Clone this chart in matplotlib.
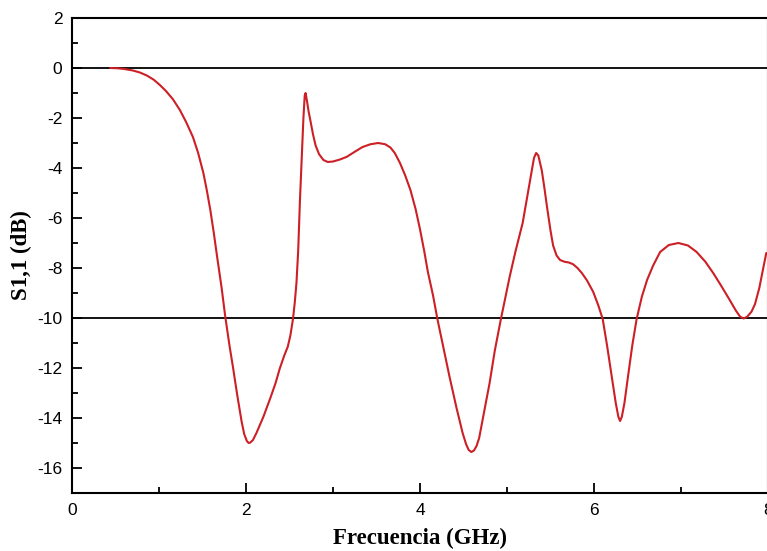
import matplotlib
matplotlib.use("Agg")
import matplotlib.pyplot as plt
from matplotlib.ticker import MultipleLocator

plt.rcParams["axes.unicode_minus"] = False

freq_ghz = [0.44, 0.52, 0.60, 0.70, 0.78, 0.86, 0.94, 1.01, 1.08, 1.16, 1.24,
            1.31, 1.39, 1.45, 1.51, 1.55, 1.59, 1.63, 1.67, 1.72, 1.76, 1.81,
            1.85, 1.90, 1.95, 1.98, 2.01, 2.03, 2.05, 2.08, 2.12, 2.20, 2.28,
            2.34, 2.39, 2.44, 2.48, 2.51, 2.54, 2.56, 2.58, 2.60, 2.62, 2.64,
            2.66, 2.675, 2.685, 2.70, 2.72, 2.74, 2.77, 2.80, 2.84, 2.89, 2.94,
            3.00, 3.08, 3.16, 3.25, 3.34, 3.43, 3.52, 3.60, 3.66, 3.71, 3.77,
            3.83, 3.89, 3.95, 4.00, 4.05, 4.09, 4.15, 4.20, 4.27, 4.34, 4.42,
            4.49, 4.53, 4.56, 4.59, 4.62, 4.65, 4.68, 4.74, 4.80, 4.86, 4.93,
            4.98, 5.03, 5.10, 5.18, 5.23, 5.28, 5.31, 5.335, 5.36, 5.38, 5.40,
            5.43, 5.46, 5.50, 5.53, 5.57, 5.61, 5.66, 5.71, 5.76, 5.81, 5.86,
            5.92, 5.99, 6.05, 6.10, 6.15, 6.21, 6.25, 6.28, 6.30, 6.32, 6.35,
            6.39, 6.44, 6.49, 6.55, 6.61, 6.68, 6.76, 6.86, 6.97, 7.08, 7.18,
            7.28, 7.37, 7.46, 7.56, 7.63, 7.68, 7.72, 7.76, 7.81, 7.85, 7.90,
            7.94, 7.98]
s11_db = [0.0, -0.01, -0.04, -0.10, -0.18, -0.30, -0.47, -0.68, -0.92, -1.25, -1.68,
          -2.15, -2.76, -3.4, -4.2, -4.9, -5.68, -6.6, -7.6, -8.8, -9.9, -11.1,
          -11.96, -13.1, -14.15, -14.65, -14.92, -15.0, -14.98, -14.88, -14.6, -13.95, -13.2,
          -12.6, -12.0, -11.5, -11.15, -10.7, -10.04, -9.4, -8.6, -7.3, -5.3, -3.6,
          -2.0, -1.1, -1.0, -1.3, -1.75, -2.1, -2.65, -3.1, -3.45, -3.68, -3.76,
          -3.74, -3.66, -3.55, -3.35, -3.16, -3.05, -3.0, -3.05, -3.18, -3.4, -3.8,
          -4.3, -4.88, -5.65, -6.45, -7.35, -8.15, -9.1, -10.04, -11.2, -12.36, -13.6,
          -14.6, -15.05, -15.28, -15.36, -15.3, -15.12, -14.8, -13.7, -12.6, -11.3, -10.04,
          -9.2, -8.36, -7.3, -6.2, -5.2, -4.2, -3.6, -3.4, -3.5, -3.8, -4.1,
          -4.8, -5.56, -6.5, -7.1, -7.5, -7.68, -7.75, -7.78, -7.85, -8.0, -8.2,
          -8.5, -8.95, -9.5, -10.04, -11.1, -12.48, -13.4, -13.95, -14.12, -13.95, -13.4,
          -12.36, -11.1, -10.04, -9.15, -8.48, -7.9, -7.36, -7.08, -7.0, -7.1, -7.36,
          -7.75, -8.2, -8.7, -9.28, -9.7, -9.95, -10.02, -9.95, -9.75, -9.45, -8.8,
          -8.1, -7.4]

ref_levels = [0, -10]
x_ticks = [0, 2, 4, 6, 8]
y_ticks = [2, 0, -2, -4, -6, -8, -10, -12, -14, -16]

fig = plt.figure(figsize=(7.67, 5.51), dpi=100)
W, H = 767, 551
ax = fig.add_axes([72 / W, 58 / H, (768 - 72) / W, 475 / H])

for lvl in ref_levels:
    ax.axhline(lvl, color="black", lw=1.3, zorder=1)
ax.plot(freq_ghz, s11_db, color="#cc1f26", lw=1.5, zorder=2,
        solid_joinstyle="round", solid_capstyle="round")

ax.set_xlim(0, 8)
ax.set_ylim(-17, 2)
ax.set_xticks(x_ticks)
ax.set_yticks(y_ticks)
ax.xaxis.set_minor_locator(MultipleLocator(1))
ax.yaxis.set_minor_locator(MultipleLocator(1))

for s in ax.spines.values():
    s.set_linewidth(1.5)
    s.set_color("black")

ax.tick_params(which="major", direction="in", length=7, width=1.3,
               labelsize=12.5, pad=7, top=False, right=False)
ax.tick_params(which="minor", direction="in", length=4, width=1.3,
               top=False, right=False)
for lab in ax.get_xticklabels() + ax.get_yticklabels():
    lab.set_fontfamily("Liberation Sans")

ax.set_xlabel("Frecuencia (GHz)", fontfamily="Liberation Serif",
              fontweight="bold", fontsize=16.5, labelpad=7)
ax.set_ylabel("S1,1 (dB)", fontfamily="Liberation Serif",
              fontweight="bold", fontsize=16.5, labelpad=4)

fig.savefig("out.png", dpi=100)
